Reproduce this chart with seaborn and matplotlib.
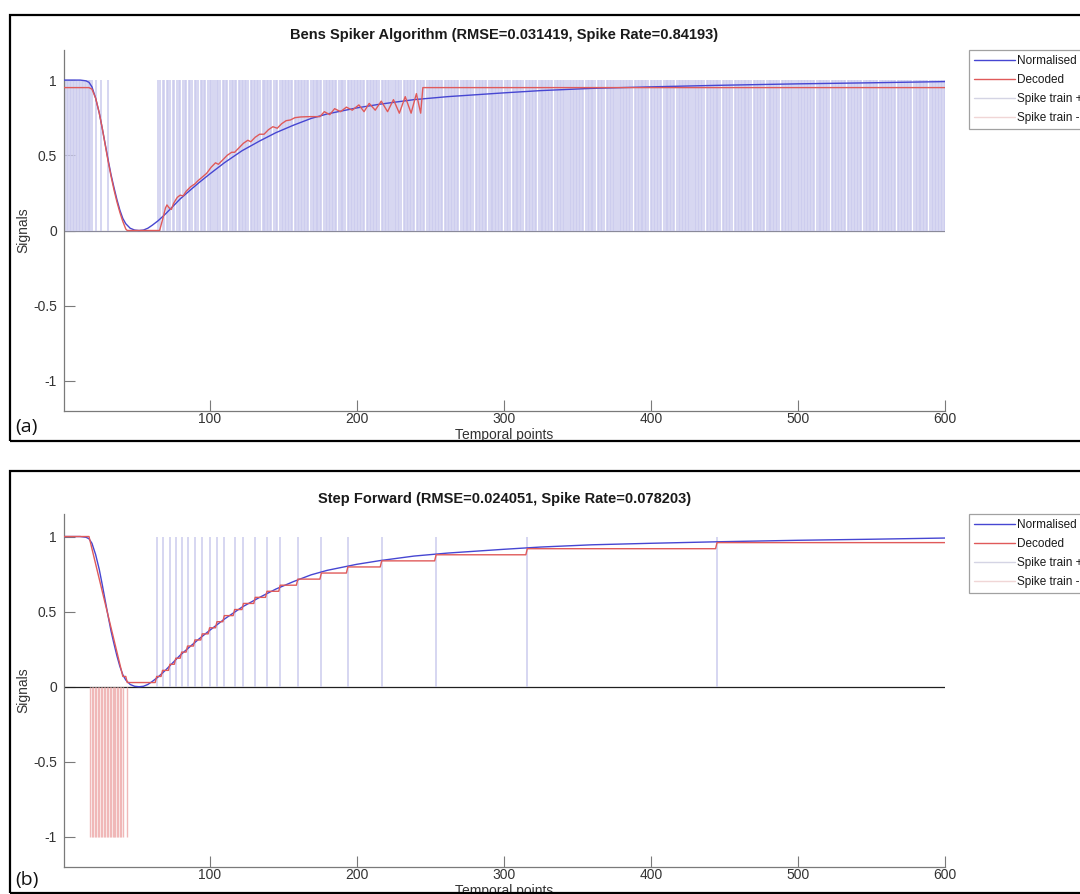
import numpy as np
import pandas as pd
import matplotlib
matplotlib.use("Agg")
import matplotlib.pyplot as plt
import seaborn as sns
from matplotlib.lines import Line2D
from matplotlib.patches import Rectangle

# ================================
# DATA
# ================================
n_points = 600
time_axis = np.arange(1, n_points + 1)

# normalised input signal, keypoints
norm_x = [1, 12, 16, 18, 20, 22.5, 25, 27, 29, 31, 33, 35, 37, 39, 41, 43, 46, 49, 52, 55,
          58, 61, 65, 70, 75, 80, 87, 93, 100, 110, 122, 134, 145, 157, 169, 180, 190, 200,
          216, 239, 262, 300, 325, 360, 400, 445, 500, 550, 600]
norm_y = [1.0, 1.0, 0.995, 0.985, 0.955, 0.88, 0.78, 0.68, 0.575, 0.47, 0.37, 0.285, 0.205,
          0.135, 0.08, 0.045, 0.015, 0.003, 0.0, 0.003, 0.015, 0.035, 0.065, 0.11, 0.16, 0.21,
          0.27, 0.32, 0.375, 0.45, 0.53, 0.595, 0.65, 0.70, 0.745, 0.775, 0.795, 0.815, 0.84,
          0.87, 0.89, 0.915, 0.93, 0.945, 0.955, 0.965, 0.975, 0.982, 0.99]

# BSA decoded signal, keypoints
bsa_dec_x = [1, 18, 20, 22.5, 25, 27, 29, 31, 33, 35, 37, 39, 41, 43, 44, 66, 68.5, 70, 71,
             72.5, 74, 75.5, 78, 80, 82, 84, 87, 90, 92, 95, 98, 101, 104, 106, 109, 112, 115,
             117, 120, 123, 126, 128, 131, 134, 137, 140, 143, 146, 149, 152, 155, 158, 162,
             168, 175, 178, 181.7, 185, 189, 193, 197, 201.5, 205, 208.5, 212.6, 216.7, 221,
             225, 229, 233, 237, 240.6, 243.5, 245, 600]
bsa_dec_y = [0.95, 0.95, 0.94, 0.88, 0.78, 0.68, 0.57, 0.46, 0.36, 0.27, 0.19, 0.12, 0.06,
             0.01, 0.0, 0.0, 0.09, 0.15, 0.17, 0.15, 0.14, 0.18, 0.22, 0.235, 0.23, 0.26, 0.29,
             0.31, 0.33, 0.355, 0.38, 0.42, 0.45, 0.44, 0.47, 0.50, 0.52, 0.52, 0.55, 0.58,
             0.60, 0.59, 0.62, 0.64, 0.64, 0.67, 0.69, 0.68, 0.71, 0.73, 0.735, 0.75, 0.755,
             0.757, 0.757, 0.79, 0.77, 0.81, 0.79, 0.82, 0.80, 0.835, 0.79, 0.845, 0.80, 0.86,
             0.79, 0.87, 0.78, 0.89, 0.78, 0.91, 0.78, 0.95, 0.95]

# BSA spike train + : every sample fires except these
bsa_silent = ([21, 22, 24, 25, 27, 28, 29, 30] + list(range(32, 65)) +
              [67, 70, 74, 77, 81, 85, 89, 93, 98, 103, 108, 113, 119, 127, 135, 143, 147,
               157, 168, 177, 187, 193, 206, 216, 224, 231, 240, 247, 259, 270, 280, 289, 300,
               305, 314, 323, 334, 343, 355, 363, 369, 377, 388, 399, 408, 417, 428, 437, 448,
               456, 469, 478, 488, 498, 512, 522, 533, 544, 555, 567, 578, 589])
bsa_pos = [t for t in time_axis if t not in bsa_silent]
bsa_neg = []

# Step Forward spike trains
sf_pos = [64, 68, 73, 77, 81, 85, 90, 95, 100, 105, 110, 117, 123, 131, 139, 148, 160, 176,
          194, 217, 254, 316, 445]
sf_neg = list(range(19, 42)) + [44]
sf_threshold = 0.0405

titles = ["Bens Spiker Algorithm (RMSE=0.031419, Spike Rate=0.84193)",
          "Step Forward (RMSE=0.024051, Spike Rate=0.078203)"]
panel_tags = ["(a)", "(b)"]
legend_labels = ["Normalised", "Decoded", "Spike train +", "Spike train -"]

# SF reconstruction: start value plus threshold steps at each spike
sf_steps = np.zeros(n_points)
sf_steps[np.array(sf_pos) - 1] += 1
sf_steps[np.array(sf_neg) - 1] -= 1
sf_dec_y = 1.0 + sf_threshold * np.cumsum(sf_steps)

# ================================
# STYLE
# ================================
sns.set_style("white")
plt.rcParams['font.family'] = ['Liberation Sans', 'DejaVu Sans']

BLUE = "#4646d2"
RED = "#e05a5a"
SPIKE_P = "#cbcbee"
SPIKE_N = "#f0b8b8"
AXCOL = "#7a7a7a"
TXT = "#333333"

fig = plt.figure(figsize=(10.8, 8.94), dpi=100)
W, H = 1080, 894

def px_axes(left, top, right, bottom):
    return fig.add_axes([left / W, 1 - bottom / H, (right - left) / W, (bottom - top) / H])

ax_a = px_axes(64, 50, 945, 411)
ax_b = px_axes(64, 514, 945, 867)

panels = [
    (ax_a, pd.DataFrame({"t": norm_x, "v": norm_y}),
     pd.DataFrame({"t": bsa_dec_x, "v": bsa_dec_y}), bsa_pos, bsa_neg, (-1.2, 1.2), "#8a8a9a"),
    (ax_b, pd.DataFrame({"t": norm_x, "v": norm_y}),
     pd.DataFrame({"t": time_axis, "v": sf_dec_y}), sf_pos, sf_neg, (-1.2, 1.15), "#202020"),
]

for i, (ax, norm_df, dec_df, pos, neg, ylim, zero_col) in enumerate(panels):
    ax.plot([1, 600], [0, 0], color=zero_col, lw=0.9, zorder=1)
    if len(pos):
        ax.vlines(pos, 0, 1, colors=SPIKE_P, lw=1.1, zorder=1.5)
    if len(neg):
        ax.vlines(neg, -1, 0, colors=SPIKE_N, lw=1.0, zorder=1.5)
    sns.lineplot(data=norm_df, x="t", y="v", ax=ax, color=BLUE, lw=1.0, sort=False,
                 estimator=None, zorder=3)
    sns.lineplot(data=dec_df, x="t", y="v", ax=ax, color=RED, lw=1.0, sort=False,
                 estimator=None, zorder=4)

    ax.set_xlim(1, 600)
    ax.set_ylim(*ylim)
    ax.set_xticks([100, 200, 300, 400, 500, 600])
    ax.set_yticks([-1, -0.5, 0, 0.5, 1])
    ax.set_yticklabels(["-1", "-0.5", "0", "0.5", "1"])
    ax.tick_params(direction="in", length=8, width=0.8, colors=AXCOL, labelcolor=TXT,
                   labelsize=10, left=True, bottom=True)
    ax.tick_params(axis="x", pad=1)
    ax.tick_params(axis="y", pad=5)
    for s in ["top", "right"]:
        ax.spines[s].set_visible(False)
    for s in ["left", "bottom"]:
        ax.spines[s].set_color(AXCOL)
        ax.spines[s].set_linewidth(0.9)
    ax.set_facecolor("white")
    ax.set_title(titles[i], fontsize=10.5, fontweight="bold", color="#1a1a1a", pad=8)
    ax_h = ax.get_position().height * H
    ax.set_xlabel("Temporal points", fontsize=10, color=TXT)
    ax.xaxis.set_label_coords(0.5, -17 / ax_h)
    ax.set_ylabel("Signals", fontsize=10, color=TXT)
    ax.yaxis.set_label_coords(-0.038, 0.5)

    handles = [Line2D([], [], color=BLUE, lw=1.0), Line2D([], [], color=RED, lw=1.0),
               Line2D([], [], color="#d4d4e4", lw=1.0), Line2D([], [], color="#f0d6d6", lw=1.0)]
    leg = ax.legend(handles, legend_labels, loc="upper left", bbox_to_anchor=(1.027, 1.0),
                    fontsize=8.5, frameon=True, fancybox=False, handlelength=3.5,
                    handletextpad=0.2, borderpad=0.4, labelspacing=0.6, borderaxespad=0)
    leg.get_frame().set_edgecolor("#8a8a8a")
    leg.get_frame().set_linewidth(0.9)
    for t in leg.get_texts():
        t.set_color("#1a1a1a")

# panel frames and tags
fig.patches.append(Rectangle((10 / W, 1 - 441 / H), 1.2, (441 - 15) / H, fill=False,
                             edgecolor="black", lw=1.6, transform=fig.transFigure))
fig.patches.append(Rectangle((10 / W, 1 - 893 / H), 1.2, (893 - 471) / H, fill=False,
                             edgecolor="black", lw=1.6, transform=fig.transFigure))
fig.text(15 / W, 1 - 427 / H, panel_tags[0], fontsize=14, family=["Open Sans", "DejaVu Sans"],
         va="center", color="#111111")
fig.text(15 / W, 1 - 880 / H, panel_tags[1], fontsize=14, family=["Open Sans", "DejaVu Sans"],
         va="center", color="#111111")

fig.savefig("out.png", dpi=100, facecolor="white")
